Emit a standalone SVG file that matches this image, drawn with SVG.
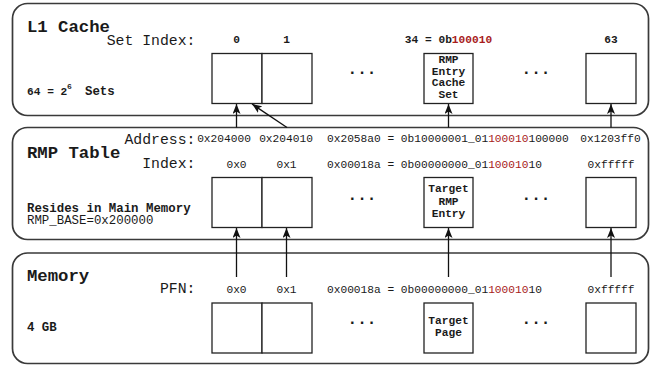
<svg xmlns="http://www.w3.org/2000/svg" width="652" height="366" viewBox="0 0 652 366">
  <style>
    text { font-family: "Liberation Mono", "Courier New", monospace; fill: #1a1a1a; }
    .title { font-size: 17.3px; font-weight: bold; }
    .head { font-size: 14.8px; text-anchor: end; }
    .lbl { font-size: 11.2px; }
    .mid { text-anchor: middle; }
    .b { font-weight: bold; }
    .note { font-size: 12.4px; }
    .dots { font-size: 16px; font-weight: bold; text-anchor: middle; }
    .red { fill: #a81c1c; }
    .panel { fill: #ffffff; stroke: #3a3a3a; stroke-width: 1.7; }
    .cell { fill: #ffffff; stroke: #222222; stroke-width: 1.3; }
    .link { stroke: #111111; stroke-width: 1.3; fill: none; marker-end: url(#arrow); }
  </style>
  <defs>
    <marker id="arrow" viewBox="0 0 10 8" refX="10" refY="4" markerWidth="10" markerHeight="8" markerUnits="userSpaceOnUse" orient="auto">
      <path d="M0,0 L10,4 L0,8 L2.5,4 Z" fill="#111111"/>
    </marker>
  </defs>
  <rect width="652" height="366" fill="#ffffff"/>

  <!-- L1 cache -->
  <g id="l1-cache">
    <rect class="panel" x="12.5" y="3.5" width="636" height="112" rx="15" ry="15"/>
    <text class="title" x="27" y="32">L1 Cache</text>
    <text class="head" x="195.5" y="45">Set Index:</text>
    <text class="lbl mid b" x="236.5" y="42.5">0</text>
    <text class="lbl mid b" x="286.5" y="42.5">1</text>
    <text class="lbl mid b" x="448.5" y="42.5">34 = 0b<tspan class="red">100010</tspan></text>
    <text class="lbl mid b" x="611" y="42.5">63</text>
    <text class="lbl b" x="27" y="95">64 = 2<tspan font-size="8" x="67" dy="-6">6</tspan><tspan font-size="12.4" x="85" dy="6">Sets</tspan></text>
    <text class="dots" x="362" y="74">...</text>
    <text class="dots" x="536" y="74">...</text>
  </g>
  <g id="l1-set-0"><rect class="cell" x="212" y="53.5" width="50" height="50"/></g>
  <g id="l1-set-1"><rect class="cell" x="262" y="53.5" width="50" height="50"/></g>
  <g id="l1-set-34">
    <rect class="cell" x="424" y="53.5" width="49" height="50"/>
    <text class="lbl mid b" x="448.5" y="63">RMP</text>
    <text class="lbl mid b" x="448.5" y="74.5">Entry</text>
    <text class="lbl mid b" x="448.5" y="86">Cache</text>
    <text class="lbl mid b" x="448.5" y="97.5">Set</text>
  </g>
  <g id="l1-set-63"><rect class="cell" x="586" y="53.5" width="50" height="50"/></g>

  <!-- RMP table -->
  <g id="rmp-table">
    <rect class="panel" x="12.5" y="127.5" width="636" height="112" rx="15" ry="15"/>
    <text class="title" x="27" y="158">RMP Table</text>
    <text class="head" x="195.5" y="143.5">Address:</text>
    <text class="lbl mid" x="224" y="142">0x204000</text>
    <text class="lbl mid" x="286" y="142">0x204010</text>
    <text class="lbl" x="327" y="142">0x2058a0 = 0b10000001_01<tspan class="red">100010</tspan>100000</text>
    <text class="lbl mid" x="610.5" y="142">0x1203ff0</text>
    <text class="head" x="195.5" y="168">Index:</text>
    <text class="lbl mid" x="236.5" y="167.5">0x0</text>
    <text class="lbl mid" x="286.5" y="167.5">0x1</text>
    <text class="lbl" x="327" y="167.5">0x00018a = 0b00000000_01<tspan class="red">100010</tspan>10</text>
    <text class="lbl mid" x="611" y="167.5">0xfffff</text>
    <text class="note b" x="27" y="211.5">Resides in Main Memory</text>
    <text class="note" x="27" y="224">RMP_BASE=0x200000</text>
    <text class="dots" x="362" y="199.5">...</text>
    <text class="dots" x="536" y="199.5">...</text>
  </g>
  <g id="rmp-entry-0"><rect class="cell" x="212" y="177.5" width="50" height="50"/></g>
  <g id="rmp-entry-1"><rect class="cell" x="262" y="177.5" width="50" height="50"/></g>
  <g id="rmp-entry-target">
    <rect class="cell" x="424" y="177.5" width="49" height="50"/>
    <text class="lbl mid b" x="448.5" y="192">Target</text>
    <text class="lbl mid b" x="448.5" y="204.5">RMP</text>
    <text class="lbl mid b" x="448.5" y="217">Entry</text>
  </g>
  <g id="rmp-entry-last"><rect class="cell" x="586" y="177.5" width="50" height="50"/></g>

  <!-- Main memory -->
  <g id="memory">
    <rect class="panel" x="12.5" y="253" width="636" height="110.5" rx="15" ry="15"/>
    <text class="title" x="27" y="281">Memory</text>
    <text class="head" x="195.5" y="293">PFN:</text>
    <text class="lbl mid" x="236.5" y="292.5">0x0</text>
    <text class="lbl mid" x="286.5" y="292.5">0x1</text>
    <text class="lbl" x="327" y="292.5">0x00018a = 0b00000000_01<tspan class="red">100010</tspan>10</text>
    <text class="lbl mid" x="611" y="292.5">0xfffff</text>
    <text class="note b" x="27" y="330.5">4 GB</text>
    <text class="dots" x="362" y="323.5">...</text>
    <text class="dots" x="536" y="323.5">...</text>
  </g>
  <g id="page-0"><rect class="cell" x="212" y="303" width="50" height="50"/></g>
  <g id="page-1"><rect class="cell" x="262" y="303" width="50" height="50"/></g>
  <g id="page-target">
    <rect class="cell" x="424" y="303" width="49" height="50"/>
    <text class="lbl mid b" x="448.5" y="323.5">Target</text>
    <text class="lbl mid b" x="448.5" y="336">Page</text>
  </g>
  <g id="page-last"><rect class="cell" x="586" y="303" width="50" height="50"/></g>

  <!-- connectors -->
  <g id="connectors">
    <line class="link" x1="236.5" y1="127.5" x2="236.5" y2="104"/>
    <line class="link" x1="287" y1="127.5" x2="252" y2="104"/>
    <line class="link" x1="448.5" y1="127.5" x2="448.5" y2="104"/>
    <line class="link" x1="611" y1="127.5" x2="611" y2="104"/>
    <line class="link" x1="236.5" y1="277" x2="236.5" y2="228"/>
    <line class="link" x1="286.5" y1="277" x2="286.5" y2="228"/>
    <line class="link" x1="448.5" y1="277" x2="448.5" y2="228"/>
    <line class="link" x1="611" y1="277" x2="611" y2="228"/>
  </g>
</svg>
